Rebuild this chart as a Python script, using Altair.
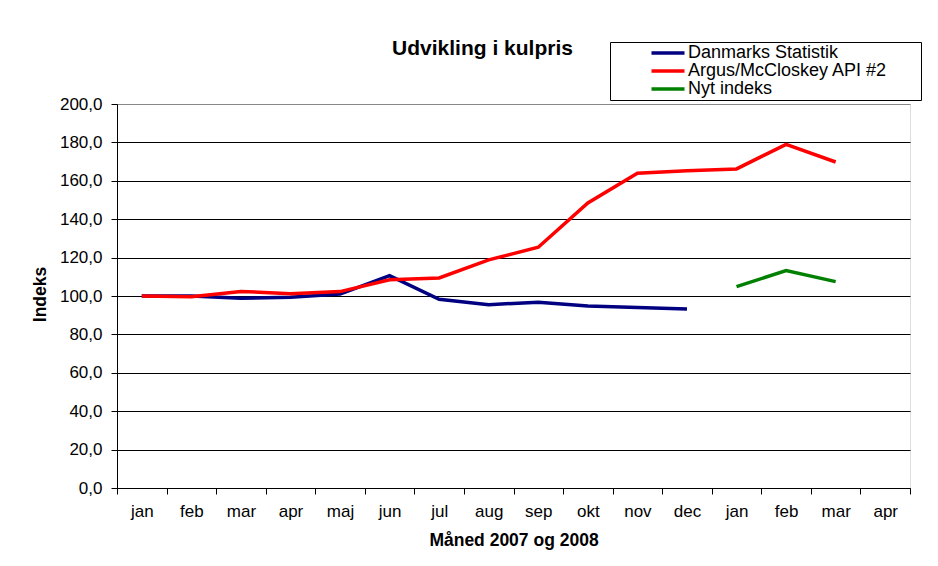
import altair as alt
import pandas as pd

months = ["jan", "feb", "mar", "apr", "maj", "jun", "jul", "aug",
          "sep", "okt", "nov", "dec", "jan", "feb", "mar", "apr"]
danmarks = [100.0, 100.0, 98.8, 99.3, 101.0, 110.6, 98.3, 95.5,
            96.8, 94.8, 94.0, 93.2]
argus = [100.0, 99.6, 102.4, 101.2, 102.3, 108.5, 109.4, 118.8,
         125.4, 148.5, 163.9, 165.2, 166.2, 179.0, 169.8]
nyt_start = 12
nyt = [104.9, 113.2, 107.5]

series_names = ["Danmarks Statistik", "Argus/McCloskey API #2", "Nyt indeks"]
series_colors = ["#000080", "#FF0000", "#008000"]

rows = []
for i, v in enumerate(danmarks):
    rows.append({"idx": i, "serie": series_names[0], "v": v})
for i, v in enumerate(argus):
    rows.append({"idx": i, "serie": series_names[1], "v": v})
for i, v in enumerate(nyt):
    rows.append({"idx": nyt_start + i, "serie": series_names[2], "v": v})
df = pd.DataFrame(rows)

FONT = "Liberation Sans"
month_js = "[" + ",".join("'%s'" % m for m in months) + "]"
pad = "\u2800\u00a0\u2800"

chart = alt.Chart(df).mark_line(strokeWidth=3.5).encode(
    x=alt.X("idx:O",
            scale=alt.Scale(type="band", domain=list(range(len(months))),
                            paddingInner=0, paddingOuter=0),
            axis=alt.Axis(title="Måned 2007 og 2008", labelAngle=0,
                          tickBand="extent", labelExpr=month_js + "[datum.value]",
                          labelFont=FONT, labelFontSize=17, labelColor="black",
                          labelBaseline="alphabetic", labelPadding=22,
                          tickSize=6, tickColor="black",
                          domainColor="black", grid=False,
                          titleFont=FONT, titleFontSize=17.5, titleFontWeight="bold",
                          titleColor="black", titleBaseline="alphabetic", titleY=57)),
    y=alt.Y("v:Q",
            scale=alt.Scale(domain=[0, 200], nice=False, zero=True),
            axis=alt.Axis(title="Indeks", values=list(range(0, 201, 20)),
                          labelExpr="replace(format(datum.value, '.1f'), '.', ',')",
                          labelFont=FONT, labelFontSize=17, labelColor="black",
                          labelPadding=9, tickSize=6, tickColor="black",
                          domainColor="black", grid=True,
                          gridColor={"condition": {"test": "datum.value == 200", "value": "#888888"},
                                     "value": "black"},
                          titleFont=FONT, titleFontSize=17.5, titleFontWeight="bold",
                          titleColor="black", titleX=-68, titleY=190)),
    color=alt.Color("serie:N",
                    scale=alt.Scale(domain=series_names, range=series_colors),
                    sort=series_names,
                    legend=alt.Legend(title=None, orient="none", legendX=493, legendY=-62,
                                      direction="vertical", symbolType="M-3,0H3",
                                      symbolSize=121, symbolStrokeWidth=3.5,
                                      symbolOffset=47, labelOffset=11,
                                      labelFont=FONT, labelFontSize=18, labelColor="black",
                                      labelLimit=400,
                                      labelExpr="datum.label + '" + pad + "'",
                                      rowPadding=0, padding=2,
                                      strokeColor="black", fillColor="white")),
    detail="serie:N",
).properties(
    width=793,
    height=384,
    title=alt.TitleParams("Udvikling i kulpris", font=FONT, fontSize=21,
                          fontWeight="bold", color="black", anchor="middle",
                          frame="group", baseline="alphabetic",
                          dx=-31, dy=34, offset=0),
    autosize=alt.AutoSizeParams(type="none"),
    padding={"left": 109, "top": 96, "right": 20, "bottom": 62},
).configure_view(stroke="#888888", strokeWidth=1).configure(background="white")

chart.save("out.html", embed_options={"renderer": "svg", "actions": False})
